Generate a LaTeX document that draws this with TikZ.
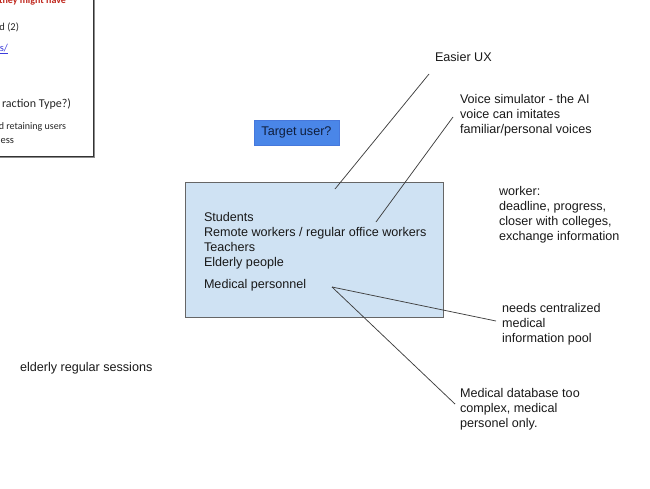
\documentclass[tikz,border=0pt]{standalone}
\usepackage{fontspec}
\setmainfont{Liberation Sans}
\newfontfamily\carl{Carlito}
\begin{document}
\begin{tikzpicture}[x=1pt,y=-1pt,
  every node/.style={inner sep=0pt, outer sep=0pt},
  lbl/.style={anchor=north west, align=left, font=\fontsize{12.6}{15}\selectfont, text=black!90},
  notetxt/.style={anchor=base east, font=\carl\fontsize{10.5}{13}\selectfont, text=black!85},
  conn/.style={draw=black!75, line width=0.75pt}]
\useasboundingbox (0,0) rectangle (650,488);
% top-left note box (cut off)
\fill[black!45] (-10,-10) rectangle (95,158);
\draw[fill=white, draw=black!80, line width=0.9pt] (-10,-10) rectangle (93,156);
\node[notetxt, font=\carl\bfseries\fontsize{10}{12}\selectfont, text={rgb,255:red,192;green,40;blue,30}] (n1) at (66,3.5) {they might have};
\node[notetxt] (n2) at (19,30) {d (2)};
\node[notetxt, text={rgb,255:red,60;green,60;blue,220}] (n3) at (8,51) {\underline{s/}};
\node[notetxt, font=\carl\fontsize{12}{14}\selectfont] (n4) at (71,107) {raction Type?)};
\node[notetxt, font=\carl\fontsize{10}{12}\selectfont] (n5) at (66,129) {d retaining users};
\node[notetxt] (n6) at (14,143) {ess};
% target user
\node[draw={rgb,255:red,70;green,120;blue,220}, fill={rgb,255:red,74;green,134;blue,232}, minimum width=85pt, minimum height=25pt, anchor=north west, font=\fontsize{12.6}{15}\selectfont, text={rgb,255:red,15;green,30;blue,60}] (target) at (254,120) {Target user?};
% main box
\node[draw=black!60, fill={rgb,255:red,207;green,226;blue,243}, line width=0.8pt, minimum width=258pt, minimum height=135pt, anchor=north west] (main) at (185,182) {};
\node[lbl] (users) at (204,212) {Students\\Remote workers / regular office workers\\Teachers\\Elderly people\\[7pt]Medical personnel};
% labels
\node[lbl] (ux) at (435,52.3) {Easier UX};
\node[lbl] (voice) at (460,94.3) {Voice simulator - the AI\\voice can imitates\\familiar/personal voices};
\node[lbl] (worker) at (499,186.3) {worker:\\deadline, progress,\\closer with colleges,\\exchange information};
\node[lbl] (needs) at (502,303.3) {needs centralized\\medical\\information pool};
\node[lbl] (meddb) at (460,388.3) {Medical database too\\complex, medical\\personel only.};
\node[lbl] (elderly) at (20,362.3) {elderly regular sessions};
% connectors
\coordinate (a1) at (429,74);
\coordinate (a2) at (335,189);
\coordinate (b1) at (453,117);
\coordinate (b2) at (376,222);
\coordinate (c0) at (332,287);
\coordinate (c1) at (496,321);
\coordinate (d1) at (455,404);
\draw[conn] (a1) -- (a2);
\draw[conn] (b1) -- (b2);
\draw[conn] (c0) -- (c1);
\draw[conn] (c0) -- (d1);
\end{tikzpicture}
\end{document}
